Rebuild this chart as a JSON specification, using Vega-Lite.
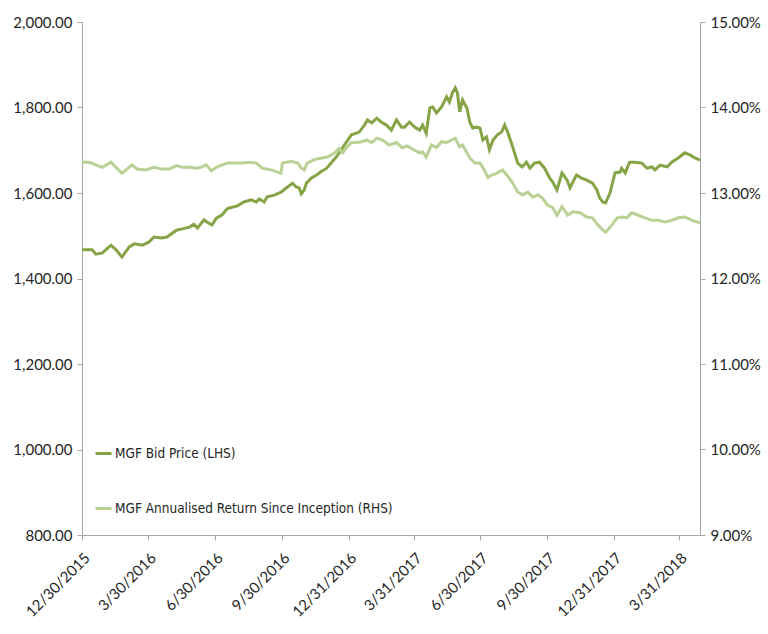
{
  "$schema": "https://vega.github.io/schema/vega-lite/v6.json",
  "width": 618,
  "height": 513,
  "autosize": {"type": "none"},
  "padding": {"left": 82, "top": 22, "right": 68, "bottom": 99},
  "background": "white",
  "config": {"view": {"stroke": null}, "font": "Lato"},
  "datasets": {
    "price": [
      {"date": "2015-12-30", "v": 1467}, {"date": "2016-01-13", "v": 1467}, {"date": "2016-01-18", "v": 1457}, {"date": "2016-01-27", "v": 1460},
      {"date": "2016-02-08", "v": 1478}, {"date": "2016-02-15", "v": 1467}, {"date": "2016-02-23", "v": 1450}, {"date": "2016-03-04", "v": 1474},
      {"date": "2016-03-11", "v": 1481}, {"date": "2016-03-22", "v": 1478}, {"date": "2016-03-31", "v": 1485}, {"date": "2016-04-07", "v": 1497},
      {"date": "2016-04-17", "v": 1495}, {"date": "2016-04-25", "v": 1497}, {"date": "2016-05-08", "v": 1513}, {"date": "2016-05-16", "v": 1516},
      {"date": "2016-05-26", "v": 1520}, {"date": "2016-06-01", "v": 1527}, {"date": "2016-06-06", "v": 1518}, {"date": "2016-06-15", "v": 1537},
      {"date": "2016-06-19", "v": 1532}, {"date": "2016-06-26", "v": 1525}, {"date": "2016-07-02", "v": 1541}, {"date": "2016-07-10", "v": 1549},
      {"date": "2016-07-17", "v": 1563}, {"date": "2016-07-20", "v": 1565}, {"date": "2016-07-31", "v": 1570}, {"date": "2016-08-09", "v": 1579},
      {"date": "2016-08-19", "v": 1584}, {"date": "2016-08-26", "v": 1579}, {"date": "2016-08-30", "v": 1586}, {"date": "2016-09-06", "v": 1579},
      {"date": "2016-09-10", "v": 1591}, {"date": "2016-09-20", "v": 1595}, {"date": "2016-09-29", "v": 1602}, {"date": "2016-10-08", "v": 1614},
      {"date": "2016-10-15", "v": 1623}, {"date": "2016-10-20", "v": 1614}, {"date": "2016-10-24", "v": 1612}, {"date": "2016-10-27", "v": 1598},
      {"date": "2016-10-31", "v": 1607}, {"date": "2016-11-03", "v": 1623}, {"date": "2016-11-10", "v": 1635}, {"date": "2016-11-17", "v": 1642},
      {"date": "2016-11-24", "v": 1651}, {"date": "2016-12-01", "v": 1658}, {"date": "2016-12-07", "v": 1670}, {"date": "2016-12-14", "v": 1684},
      {"date": "2016-12-21", "v": 1701}, {"date": "2016-12-28", "v": 1719}, {"date": "2017-01-04", "v": 1736}, {"date": "2017-01-11", "v": 1740},
      {"date": "2017-01-15", "v": 1743}, {"date": "2017-01-22", "v": 1759}, {"date": "2017-01-26", "v": 1771}, {"date": "2017-02-01", "v": 1764},
      {"date": "2017-02-08", "v": 1775}, {"date": "2017-02-14", "v": 1766}, {"date": "2017-02-21", "v": 1759}, {"date": "2017-02-28", "v": 1747},
      {"date": "2017-03-07", "v": 1771}, {"date": "2017-03-14", "v": 1754}, {"date": "2017-03-18", "v": 1754}, {"date": "2017-03-25", "v": 1766},
      {"date": "2017-04-01", "v": 1754}, {"date": "2017-04-08", "v": 1747}, {"date": "2017-04-12", "v": 1759}, {"date": "2017-04-17", "v": 1740},
      {"date": "2017-04-22", "v": 1799}, {"date": "2017-04-26", "v": 1801}, {"date": "2017-05-01", "v": 1787}, {"date": "2017-05-08", "v": 1801},
      {"date": "2017-05-15", "v": 1825}, {"date": "2017-05-19", "v": 1813}, {"date": "2017-05-23", "v": 1834}, {"date": "2017-05-27", "v": 1846},
      {"date": "2017-05-30", "v": 1834}, {"date": "2017-06-02", "v": 1790}, {"date": "2017-06-06", "v": 1818}, {"date": "2017-06-12", "v": 1799},
      {"date": "2017-06-16", "v": 1766}, {"date": "2017-06-20", "v": 1752}, {"date": "2017-06-25", "v": 1754}, {"date": "2017-06-30", "v": 1752},
      {"date": "2017-07-04", "v": 1724}, {"date": "2017-07-09", "v": 1731}, {"date": "2017-07-13", "v": 1701}, {"date": "2017-07-18", "v": 1724},
      {"date": "2017-07-24", "v": 1736}, {"date": "2017-07-30", "v": 1743}, {"date": "2017-08-03", "v": 1759}, {"date": "2017-08-07", "v": 1743},
      {"date": "2017-08-14", "v": 1708}, {"date": "2017-08-21", "v": 1670}, {"date": "2017-08-27", "v": 1661}, {"date": "2017-09-02", "v": 1672},
      {"date": "2017-09-07", "v": 1658}, {"date": "2017-09-13", "v": 1670}, {"date": "2017-09-20", "v": 1672}, {"date": "2017-09-27", "v": 1658},
      {"date": "2017-10-04", "v": 1635}, {"date": "2017-10-08", "v": 1626}, {"date": "2017-10-14", "v": 1607}, {"date": "2017-10-21", "v": 1647},
      {"date": "2017-10-28", "v": 1630}, {"date": "2017-11-01", "v": 1612}, {"date": "2017-11-05", "v": 1626}, {"date": "2017-11-10", "v": 1642},
      {"date": "2017-11-17", "v": 1635}, {"date": "2017-11-24", "v": 1630}, {"date": "2017-12-02", "v": 1623}, {"date": "2017-12-08", "v": 1607},
      {"date": "2017-12-12", "v": 1588}, {"date": "2017-12-16", "v": 1579}, {"date": "2017-12-20", "v": 1577}, {"date": "2017-12-26", "v": 1600},
      {"date": "2018-01-02", "v": 1647}, {"date": "2018-01-09", "v": 1649}, {"date": "2018-01-11", "v": 1658}, {"date": "2018-01-16", "v": 1647},
      {"date": "2018-01-22", "v": 1672}, {"date": "2018-01-29", "v": 1672}, {"date": "2018-02-08", "v": 1670}, {"date": "2018-02-15", "v": 1658},
      {"date": "2018-02-22", "v": 1661}, {"date": "2018-02-26", "v": 1654}, {"date": "2018-03-05", "v": 1665}, {"date": "2018-03-15", "v": 1661},
      {"date": "2018-03-21", "v": 1672}, {"date": "2018-03-30", "v": 1682}, {"date": "2018-04-08", "v": 1694}, {"date": "2018-04-15", "v": 1689},
      {"date": "2018-04-22", "v": 1682}, {"date": "2018-04-29", "v": 1677}
    ],
    "ret": [
      {"date": "2015-12-30", "v": 0.1336}, {"date": "2016-01-09", "v": 0.1336}, {"date": "2016-01-18", "v": 0.1333}, {"date": "2016-01-27", "v": 0.1330},
      {"date": "2016-02-08", "v": 0.1336}, {"date": "2016-02-16", "v": 0.1329}, {"date": "2016-02-23", "v": 0.1323}, {"date": "2016-03-01", "v": 0.1328},
      {"date": "2016-03-08", "v": 0.1333}, {"date": "2016-03-15", "v": 0.1328}, {"date": "2016-03-27", "v": 0.1327}, {"date": "2016-04-07", "v": 0.1330},
      {"date": "2016-04-18", "v": 0.1328}, {"date": "2016-04-28", "v": 0.1328}, {"date": "2016-05-08", "v": 0.1332}, {"date": "2016-05-16", "v": 0.1330},
      {"date": "2016-05-26", "v": 0.1330}, {"date": "2016-06-04", "v": 0.1329}, {"date": "2016-06-11", "v": 0.1330}, {"date": "2016-06-18", "v": 0.1333},
      {"date": "2016-06-25", "v": 0.1326}, {"date": "2016-07-02", "v": 0.1330}, {"date": "2016-07-10", "v": 0.1333}, {"date": "2016-07-17", "v": 0.1335},
      {"date": "2016-07-27", "v": 0.1335}, {"date": "2016-08-07", "v": 0.1335}, {"date": "2016-08-16", "v": 0.1336}, {"date": "2016-08-26", "v": 0.1335},
      {"date": "2016-09-03", "v": 0.1329}, {"date": "2016-09-16", "v": 0.1327}, {"date": "2016-09-29", "v": 0.1323}, {"date": "2016-10-01", "v": 0.1335},
      {"date": "2016-10-13", "v": 0.1337}, {"date": "2016-10-22", "v": 0.1335}, {"date": "2016-10-27", "v": 0.1329}, {"date": "2016-10-31", "v": 0.1327},
      {"date": "2016-11-04", "v": 0.1335}, {"date": "2016-11-14", "v": 0.1339}, {"date": "2016-11-24", "v": 0.1341}, {"date": "2016-12-02", "v": 0.1342},
      {"date": "2016-12-12", "v": 0.1347}, {"date": "2016-12-18", "v": 0.1352}, {"date": "2016-12-23", "v": 0.1347}, {"date": "2016-12-28", "v": 0.1353},
      {"date": "2017-01-04", "v": 0.1359}, {"date": "2017-01-11", "v": 0.1359}, {"date": "2017-01-18", "v": 0.1360}, {"date": "2017-01-25", "v": 0.1362},
      {"date": "2017-02-01", "v": 0.1359}, {"date": "2017-02-08", "v": 0.1364}, {"date": "2017-02-16", "v": 0.1362}, {"date": "2017-02-25", "v": 0.1356},
      {"date": "2017-03-07", "v": 0.1359}, {"date": "2017-03-15", "v": 0.1353}, {"date": "2017-03-22", "v": 0.1355}, {"date": "2017-04-01", "v": 0.1350},
      {"date": "2017-04-08", "v": 0.1347}, {"date": "2017-04-12", "v": 0.1348}, {"date": "2017-04-17", "v": 0.1342}, {"date": "2017-04-24", "v": 0.1356},
      {"date": "2017-05-01", "v": 0.1353}, {"date": "2017-05-08", "v": 0.1360}, {"date": "2017-05-15", "v": 0.1359}, {"date": "2017-05-22", "v": 0.1362},
      {"date": "2017-05-27", "v": 0.1364}, {"date": "2017-06-02", "v": 0.1354}, {"date": "2017-06-06", "v": 0.1356}, {"date": "2017-06-16", "v": 0.1341},
      {"date": "2017-06-23", "v": 0.1335}, {"date": "2017-06-30", "v": 0.1335}, {"date": "2017-07-06", "v": 0.1327}, {"date": "2017-07-11", "v": 0.1318},
      {"date": "2017-07-16", "v": 0.1321}, {"date": "2017-07-23", "v": 0.1323}, {"date": "2017-07-31", "v": 0.1327}, {"date": "2017-08-06", "v": 0.1321},
      {"date": "2017-08-13", "v": 0.1313}, {"date": "2017-08-21", "v": 0.1301}, {"date": "2017-08-28", "v": 0.1298}, {"date": "2017-09-04", "v": 0.1301},
      {"date": "2017-09-11", "v": 0.1295}, {"date": "2017-09-18", "v": 0.1298}, {"date": "2017-09-24", "v": 0.1294}, {"date": "2017-10-01", "v": 0.1286},
      {"date": "2017-10-08", "v": 0.1283}, {"date": "2017-10-14", "v": 0.1274}, {"date": "2017-10-21", "v": 0.1284}, {"date": "2017-10-29", "v": 0.1274},
      {"date": "2017-11-05", "v": 0.1278}, {"date": "2017-11-15", "v": 0.1277}, {"date": "2017-11-24", "v": 0.1272}, {"date": "2017-12-02", "v": 0.1271},
      {"date": "2017-12-09", "v": 0.1263}, {"date": "2017-12-16", "v": 0.1257}, {"date": "2017-12-20", "v": 0.1254}, {"date": "2017-12-29", "v": 0.1263},
      {"date": "2018-01-05", "v": 0.1271}, {"date": "2018-01-11", "v": 0.1272}, {"date": "2018-01-18", "v": 0.1271}, {"date": "2018-01-25", "v": 0.1277},
      {"date": "2018-02-03", "v": 0.1274}, {"date": "2018-02-12", "v": 0.1271}, {"date": "2018-02-22", "v": 0.1268}, {"date": "2018-03-02", "v": 0.1268},
      {"date": "2018-03-12", "v": 0.1266}, {"date": "2018-03-21", "v": 0.1268}, {"date": "2018-03-30", "v": 0.1271}, {"date": "2018-04-08", "v": 0.1272},
      {"date": "2018-04-18", "v": 0.1268}, {"date": "2018-04-29", "v": 0.1265}
    ]
  },
  "encoding": {
    "x": {
      "field": "date",
      "type": "temporal",
      "title": null,
      "scale": {
        "type": "utc",
        "domain": [
          {"year": 2015, "month": 12, "date": 30, "utc": true},
          {"year": 2018, "month": 4, "date": 29, "utc": true}
        ]
      },
      "axis": {
        "values": [
          {"year": 2015, "month": 12, "date": 30, "utc": true},
          {"year": 2016, "month": 3, "date": 30, "utc": true},
          {"year": 2016, "month": 6, "date": 30, "utc": true},
          {"year": 2016, "month": 9, "date": 30, "utc": true},
          {"year": 2016, "month": 12, "date": 31, "utc": true},
          {"year": 2017, "month": 3, "date": 31, "utc": true},
          {"year": 2017, "month": 6, "date": 30, "utc": true},
          {"year": 2017, "month": 9, "date": 30, "utc": true},
          {"year": 2017, "month": 12, "date": 31, "utc": true},
          {"year": 2018, "month": 3, "date": 31, "utc": true}
        ],
        "labelExpr": "utcFormat(datum.value, '%-m/%-d/%Y')",
        "labelAngle": -45,
        "labelAlign": "right",
        "labelBaseline": "top",
        "labelFontSize": 15,
        "labelColor": "#262626",
        "labelPadding": 10,
        "labelOverlap": false,
        "labelFlush": false,
        "domainColor": "#a6a6a6",
        "tickColor": "#a6a6a6",
        "tickSize": 5,
        "grid": false
      }
    }
  },
  "layer": [
    {
      "data": {"name": "price"},
      "mark": {"type": "line", "strokeWidth": 3, "interpolate": "linear"},
      "encoding": {
        "y": {
          "field": "v",
          "type": "quantitative",
          "title": null,
          "scale": {"domain": [800, 2000], "nice": false, "zero": false},
          "axis": {
            "orient": "left",
            "values": [800, 1000, 1200, 1400, 1600, 1800, 2000],
            "format": ",.2f",
            "labelFontSize": 15,
            "labelColor": "#262626",
            "labelPadding": 5,
            "domainColor": "#a6a6a6",
            "tickColor": "#a6a6a6",
            "tickSize": 5,
            "grid": false
          }
        },
        "color": {
          "datum": "MGF Bid Price (LHS)",
          "type": "nominal",
          "scale": {
            "domain": ["MGF Bid Price (LHS)", "MGF Annualised Return Since Inception (RHS)"],
            "range": ["#84a446", "#b9d195"]
          },
          "legend": {
            "title": null,
            "orient": "none",
            "legendX": 12,
            "legendY": 422,
            "padding": 0,
            "symbolType": "stroke",
            "symbolStrokeWidth": 3,
            "symbolSize": 256,
            "labelFont": "'DejaVu Sans Condensed', 'Liberation Sans Narrow', 'Roboto', sans-serif",
            "labelFontSize": 13.5,
            "labelColor": "#262626",
            "labelOffset": 2,
            "rowPadding": 39,
            "labelLimit": 400
          }
        }
      }
    },
    {
      "data": {"name": "ret"},
      "mark": {"type": "line", "strokeWidth": 3, "interpolate": "linear"},
      "encoding": {
        "y": {
          "field": "v",
          "type": "quantitative",
          "title": null,
          "scale": {"domain": [0.09, 0.15], "nice": false, "zero": false},
          "axis": {
            "orient": "right",
            "values": [0.09, 0.10, 0.11, 0.12, 0.13, 0.14, 0.15],
            "format": ".2%",
            "labelFontSize": 15,
            "labelColor": "#262626",
            "labelPadding": 5,
            "domainColor": "#a6a6a6",
            "tickColor": "#a6a6a6",
            "tickSize": 5,
            "grid": false
          }
        },
        "color": {
          "datum": "MGF Annualised Return Since Inception (RHS)",
          "type": "nominal"
        }
      }
    }
  ],
  "resolve": {"scale": {"y": "independent"}}
}
